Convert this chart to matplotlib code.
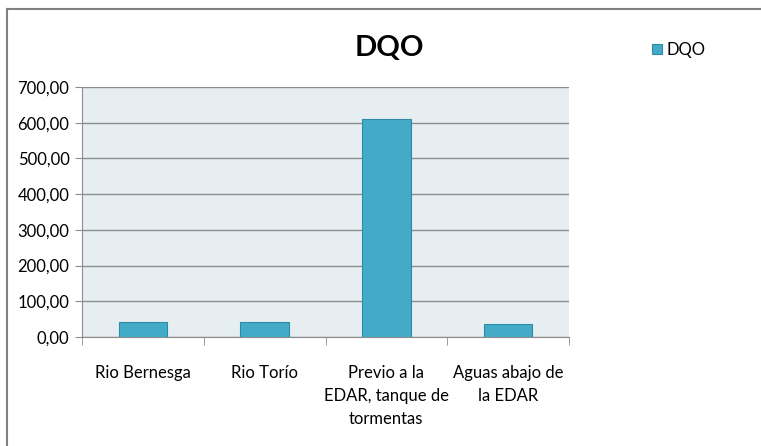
import matplotlib.pyplot as plt
from matplotlib.lines import Line2D
from matplotlib.ticker import FuncFormatter

plt.rcParams["font.family"] = ["Lato", "DejaVu Sans"]

categories = ["Rio Bernesga", "Rio Torío", "Previo a la\nEDAR, tanque de\ntormentas", "Aguas abajo de\nla EDAR"]
dqo = [43, 43, 611, 37]
yticks = [0, 100, 200, 300, 400, 500, 600, 700]

fig = plt.figure(figsize=(7.61, 4.46), dpi=100)
W, H = 761, 446
ax = fig.add_axes([82 / W, 1 - 337 / H, (569 - 82) / W, (337 - 87) / H])
ax.set_facecolor("#E7EEF2")

x = list(range(len(categories)))
ax.bar(x, dqo, width=0.4, color="#43AAC7", edgecolor="#2F8AA5", linewidth=0.8, zorder=3, label="DQO")

ax.set_xlim(-0.5, 3.5)
ax.set_ylim(0, 700)
ax.set_yticks(yticks)
ax.yaxis.set_major_formatter(FuncFormatter(lambda v, p: f"{v:.2f}".replace(".", ",")))
ax.grid(axis="y", color="#8C8C8C", linewidth=1, zorder=1)
ax.set_axisbelow(True)

ax.set_xticks(x)
ax.set_xticklabels(categories, fontsize=12, linespacing=1.55, va="top")
ax.set_xticks([-0.5, 0.5, 1.5, 2.5, 3.5], minor=True)
ax.tick_params(axis="x", which="major", length=0, pad=20)
ax.tick_params(axis="x", which="minor", length=6, color="#8C8C8C", direction="out")
ax.tick_params(axis="y", length=5, color="#8C8C8C", labelsize=12, pad=4)

for s in ["top", "right"]:
    ax.spines[s].set_visible(False)
for s in ["left", "bottom"]:
    ax.spines[s].set_color("#8C8C8C")

fig.text(389 / W, 1 - 48 / H, "DQO", fontsize=21, fontweight="bold", ha="center", va="center")

ax.legend(loc="center left", bbox_to_anchor=(637 / W, 1 - 50 / H), bbox_transform=fig.transFigure,
          frameon=False, fontsize=12, handlelength=0.6, handleheight=0.6, handletextpad=0.25)

# outer chart border
fig.add_artist(Line2D([7 / W, 7 / W], [0, 1 - 9 / H], color="#808080", linewidth=1.5))
fig.add_artist(Line2D([7 / W, 1], [1 - 9 / H, 1 - 9 / H], color="#808080", linewidth=1.5))

plt.savefig("out.png", dpi=100)
